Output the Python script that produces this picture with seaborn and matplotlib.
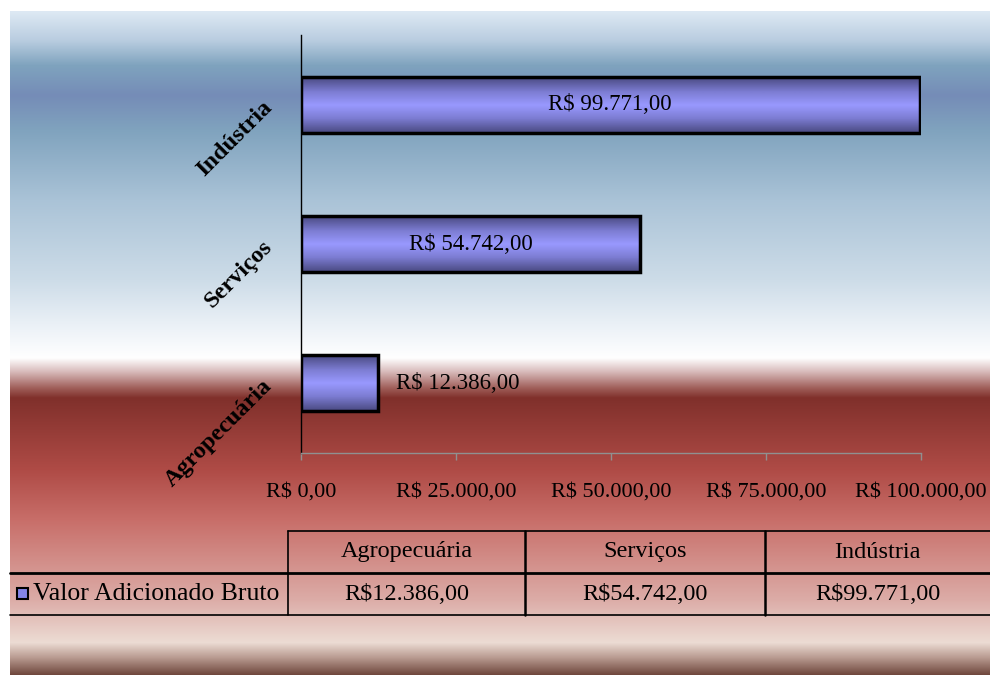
import numpy as np
import pandas as pd
import matplotlib
matplotlib.use("Agg")
import matplotlib.pyplot as plt
import seaborn as sns
from matplotlib.colors import LinearSegmentedColormap
from matplotlib.lines import Line2D
from matplotlib.patches import Rectangle

# ---- data ----
categories = ["Agropecuária", "Serviços", "Indústria"]
values = [12386.00, 54742.00, 99771.00]
series_name = "Valor Adicionado Bruto"
x_ticks = [0, 25000, 50000, 75000, 100000]


def brl(v):
    s = f"{v:,.2f}"
    s = s.replace(",", "X").replace(".", ",").replace("X", ".")
    return "R$ " + s


sns.set_theme(style="white")
plt.rcParams["font.family"] = ["Liberation Serif", "DejaVu Serif"]
plt.rcParams["text.color"] = "black"
plt.rcParams["xtick.color"] = "black"
plt.rcParams["ytick.color"] = "black"
plt.rcParams["axes.labelcolor"] = "black"

W, H = 990, 675
fig = plt.figure(figsize=(W / 100, H / 100), dpi=100)
fig.patch.set_facecolor("white")

# ---- background gradient ----
stops_y = [11, 40, 65, 95, 130, 200, 280, 330, 358, 372, 388, 398, 470, 520, 600, 643, 658, 675]
stops_c = [(222, 233, 244), (185, 205, 224), (127, 163, 190), (117, 140, 183), (128, 163, 190),
           (170, 195, 215), (205, 220, 232), (238, 243, 248), (255, 255, 255), (215, 185, 185),
           (160, 95, 90), (128, 48, 43), (175, 75, 70), (200, 110, 105), (220, 172, 167),
           (236, 220, 212), (185, 155, 145), (112, 72, 62)]
ys = np.arange(11, 676)
grad = np.zeros((len(ys), 1, 3))
for k in range(3):
    grad[:, 0, k] = np.interp(ys, stops_y, [c[k] for c in stops_c]) / 255.0
bg = fig.add_axes([10 / W, 0, 1 - 10 / W, 1 - 11 / H])
bg.imshow(grad, aspect="auto", extent=[0, 1, 0, 1], interpolation="bilinear")
bg.set_axis_off()
bg.set_zorder(0)

# ---- main axes ----
ax = fig.add_axes([301 / W, 1 - 453 / H, 620 / W, 418 / H])
ax.set_zorder(1)
ax.patch.set_alpha(0)

df = pd.DataFrame({"categoria": categories, "valor": values})
sns.barplot(data=df, y="categoria", x="valor", order=categories[::-1], orient="h",
            color="#9999FF", edgecolor="black", linewidth=2.5, width=0.4, ax=ax)

ax.set_xlim(0, 100000)
ax.set_ylim(2.5, -0.5)

bar_cmap = LinearSegmentedColormap.from_list(
    "barg", [(0.0, "#4A4A82"), (0.25, "#7B7BD0"), (0.5, "#9999FF"), (0.75, "#7B7BD0"), (1.0, "#4A4A82")])
gvals = np.linspace(0, 1, 64).reshape(-1, 1)
for p in ax.patches:
    x0, y0 = p.get_x(), p.get_y()
    w, h = p.get_width(), p.get_height()
    im = ax.imshow(gvals, cmap=bar_cmap, aspect="auto", extent=[x0, x0 + w, y0 + h, y0],
                   interpolation="bilinear", zorder=2)
    im.set_clip_path(p)
    p.set_facecolor("none")
    p.set_zorder(3)
ax.set_xlim(0, 100000)
ax.set_ylim(2.5, -0.5)

# bar labels
order = categories[::-1]
for p, cat in zip(ax.patches, order):
    v = values[categories.index(cat)]
    yc = p.get_y() + p.get_height() / 2
    if v > 30000:
        ax.text(p.get_x() + p.get_width() / 2, yc, brl(v), ha="center", va="center",
                fontsize=16.5, color="black", zorder=4)
    else:
        ax.text(v + 3000, yc, brl(v), ha="left", va="center", fontsize=16.5,
                color="black", zorder=4)

# axes styling
for s in ["top", "right"]:
    ax.spines[s].set_visible(False)
ax.spines["left"].set_color("black")
ax.spines["left"].set_linewidth(1.0)
ax.spines["bottom"].set_color("#909090")
ax.spines["bottom"].set_linewidth(1.0)
ax.set_xticks(x_ticks)
ax.set_xticklabels([brl(t) for t in x_ticks], fontsize=16, color="black")
ax.tick_params(axis="x", bottom=True, length=5, width=1, color="#909090", pad=16)
ax.tick_params(axis="y", left=False, pad=17)
for lbl in ax.get_yticklabels():
    lbl.set_rotation(45)
    lbl.set_rotation_mode("anchor")
    lbl.set_ha("right")
    lbl.set_va("center")
    lbl.set_fontweight("bold")
    lbl.set_fontsize(17.5)
    lbl.set_color("black")
ax.set_xlabel("")
ax.set_ylabel("")

# ---- data table ----
def fx(px):
    return px / W


def fy(py):
    return 1 - py / H


col_edges = [288, 525, 765, 990]
y_top, y_mid, y_bot = 531, 573, 615
lines = [
    ((288, 990), (y_top, y_top), 1.2),
    ((10, 990), (y_mid, y_mid), 2.0),
    ((10, 990), (y_bot, y_bot), 1.2),
]
for xs, yy, lw in lines:
    fig.add_artist(Line2D([fx(xs[0]), fx(xs[1])], [fy(yy[0]), fy(yy[1])], color="black",
                          lw=lw, transform=fig.transFigure, zorder=5))
for i, xe in enumerate(col_edges[:-1]):
    lw = 1.2 if i == 0 else 1.8
    fig.add_artist(Line2D([fx(xe), fx(xe)], [fy(y_top), fy(y_bot)], color="black", lw=lw,
                          transform=fig.transFigure, zorder=5))

for i, cat in enumerate(categories):
    xc = (col_edges[i] + col_edges[i + 1]) / 2
    fig.text(fx(xc), fy((y_top + y_mid) / 2), cat, ha="center", va="center", fontsize=17.5,
             color="black", zorder=6)
    fig.text(fx(xc), fy((y_mid + y_bot) / 2), brl(values[i]).replace("R$ ", "R$"),
             ha="center", va="center", fontsize=17.5, color="black", zorder=6)

# legend key
fig.add_artist(Rectangle((fx(17), fy(599)), 11 / W, 11 / H, facecolor="#8484E8",
                         edgecolor="black", lw=1.5, transform=fig.transFigure, zorder=6))
fig.text(fx(33), fy(594), series_name, ha="left", va="center", fontsize=18.5, color="black",
         zorder=6)

fig.savefig("out.png", dpi=100, facecolor="white")
